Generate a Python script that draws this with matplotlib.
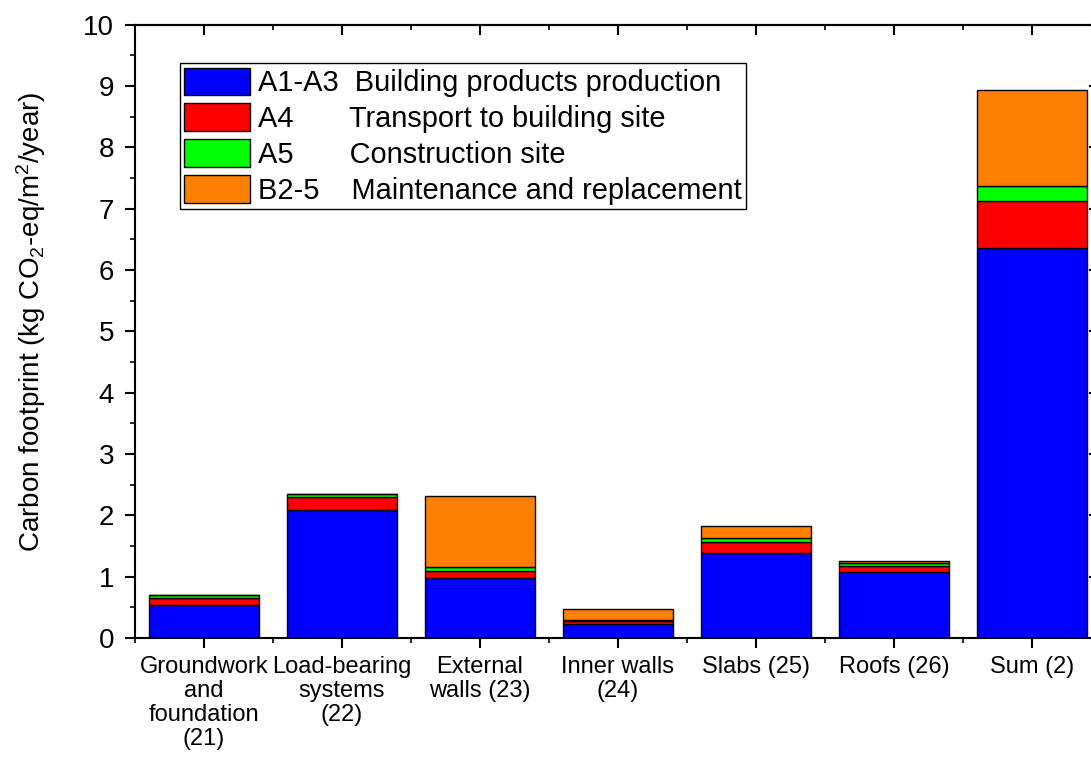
import numpy as np
import matplotlib
matplotlib.use("Agg")
import matplotlib.pyplot as plt
from matplotlib.ticker import MultipleLocator, FixedLocator

plt.rcParams['font.family'] = ['Liberation Sans', 'DejaVu Sans']
plt.rcParams['mathtext.default'] = 'regular'

categories = ["Groundwork\nand\nfoundation\n(21)", "Load-bearing\nsystems\n(22)",
              "External\nwalls (23)", "Inner walls\n(24)", "Slabs (25)",
              "Roofs (26)", "Sum (2)"]
a1_a3 = [0.54, 2.09, 0.98, 0.23, 1.38, 1.08, 6.36]
a4 = [0.12, 0.21, 0.12, 0.05, 0.18, 0.09, 0.76]
a5 = [0.04, 0.04, 0.06, 0.02, 0.07, 0.05, 0.25]
b2_5 = [0.00, 0.01, 1.15, 0.18, 0.19, 0.04, 1.56]

series = [
    (a1_a3, "#0000ff", "A1-A3  Building products production"),
    (a4, "#ff0000", "A4       Transport to building site"),
    (a5, "#00ff00", "A5       Construction site"),
    (b2_5, "#ff8000", "B2-5    Maintenance and replacement"),
]

fig = plt.figure(figsize=(10.91, 7.66), dpi=100)
# the original is cropped on the right, so the axes run a bit past the edge
ax = fig.add_axes([0.1237, 0.1671, 0.8854, 0.8009])

x = np.arange(1, len(categories) + 1)
bottom = np.zeros(len(categories))
for vals, color, label in series:
    ax.bar(x, vals, width=0.8, bottom=bottom, color=color, edgecolor='black',
           linewidth=1.0, label=label)
    bottom += np.array(vals)

ax.set_xlim(0.5, 7.5)
ax.set_ylim(0, 10)
ax.set_xticks(x)
ax.set_xticklabels(categories, fontsize=17, linespacing=1.12)
ax.xaxis.set_minor_locator(FixedLocator(np.arange(0.5, 7.6, 1.0)))
ax.yaxis.set_major_locator(MultipleLocator(1))
ax.yaxis.set_minor_locator(MultipleLocator(0.5))

for s in ['left', 'bottom', 'right', 'top']:
    ax.spines[s].set_linewidth(1.5)

ax.tick_params(axis='both', which='major', direction='out', length=7, width=1.5)
ax.tick_params(axis='both', which='minor', direction='out', length=3.5, width=1.2)
ax.tick_params(axis='y', which='major', labelsize=20, pad=8)
ax.tick_params(axis='x', which='major', pad=6)

# top and right axes: inward ticks, no labels
top = ax.secondary_xaxis('top')
top.set_xticks(x)
top.xaxis.set_minor_locator(FixedLocator(np.arange(0.5, 7.6, 1.0)))
top.tick_params(which='major', direction='in', length=7, width=1.5, labeltop=False)
top.tick_params(which='minor', direction='in', length=3.5, width=1.2)
top.spines['top'].set_linewidth(1.5)

right = ax.secondary_yaxis('right')
right.yaxis.set_major_locator(MultipleLocator(1))
right.yaxis.set_minor_locator(MultipleLocator(0.5))
right.tick_params(which='major', direction='in', length=9, width=1.5, labelright=False)
right.tick_params(which='minor', direction='in', length=4, width=1.2)

ax.set_ylabel("Carbon footprint (kg CO$_2$-eq/m$^2$/year)", fontsize=20)
ax.yaxis.set_label_coords(-0.090, 0.515)

leg = ax.legend(loc='upper left', bbox_to_anchor=(0.0466, 0.937), fontsize=20.9,
                handlelength=2.25, handleheight=1.1, labelspacing=0.21,
                handletextpad=0.28, borderpad=0.15, borderaxespad=0,
                fancybox=False, framealpha=1)
leg.get_frame().set_edgecolor('black')
leg.get_frame().set_linewidth(1.0)

plt.savefig("out.png", dpi=100)
plt.close()
